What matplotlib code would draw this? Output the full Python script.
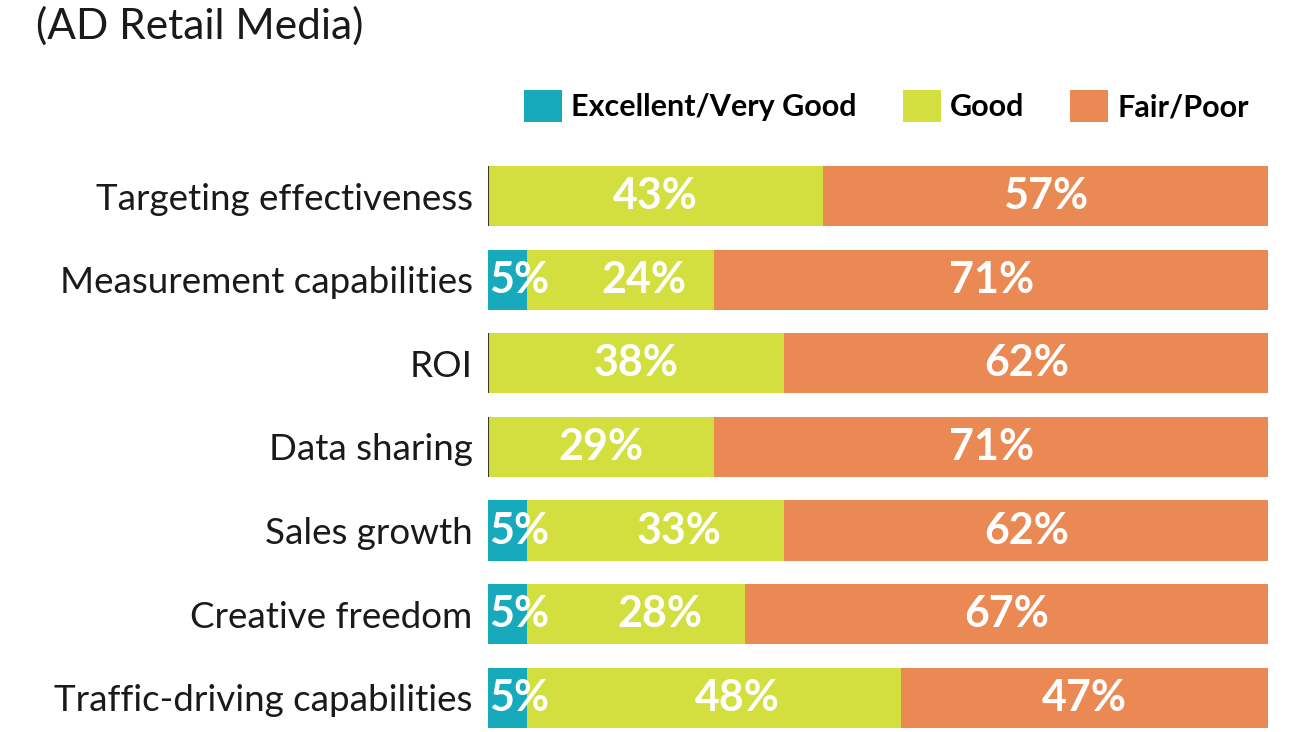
import matplotlib.pyplot as plt
from matplotlib.patches import Patch

# Chart data.
categories = [
    "Targeting effectiveness",
    "Measurement capabilities",
    "ROI",
    "Data sharing",
    "Sales growth",
    "Creative freedom",
    "Traffic-driving capabilities",
]
excellent = [0, 5, 0, 0, 5, 5, 5]
good = [43, 24, 38, 29, 33, 28, 48]
fair_poor = [57, 71, 62, 71, 62, 67, 47]
series_names = ["Excellent/Very Good", "Good", "Fair/Poor"]
colors = ["#17AABD", "#D3DF3F", "#EB8955"]

plt.rcParams["font.family"] = ["Lato", "DejaVu Sans"]

fig = plt.figure(figsize=(13, 7.32), dpi=100)
ax = fig.add_axes([0.3754, 0.0055, 0.6, 0.7678])

positions = list(range(len(categories)))
bar_height = 0.72

# Draw the three stacked segments.
lefts = [0] * len(categories)
for values, color in zip([excellent, good, fair_poor], colors):
    ax.barh(positions, values, left=lefts, height=bar_height, color=color)
    lefts = [l + v for l, v in zip(lefts, values)]

# Thin dark edge where the first segment is empty.
for pos, value in zip(positions, excellent):
    if value == 0:
        ax.vlines(0, pos - bar_height / 2, pos + bar_height / 2, color="#3a3a2a", lw=1.5)

# Percentage labels in each segment.
for pos, e, g, f in zip(positions, excellent, good, fair_poor):
    style = dict(color="white", fontsize=31, fontweight="bold", va="center", ha="center")
    if e > 0:
        # Small segment: start the label at the bar's left edge.
        ax.text(0.2, pos, f"{e}%", **{**style, "ha": "left"})
        ax.text(e + g / 2 + 3, pos, f"{g}%", **style)
    else:
        ax.text(g / 2, pos, f"{g}%", **style)
    ax.text(e + g + f / 2, pos, f"{f}%", **style)

ax.set_xlim(0, 100)
ax.set_ylim(len(categories) - 1 + bar_height / 2, -bar_height / 2)
ax.set_yticks(positions)
ax.set_yticklabels(categories, fontsize=26.5, color="#1a1a1a")
ax.tick_params(axis="y", length=0, pad=11)
ax.set_xticks([])
for spine in ax.spines.values():
    spine.set_visible(False)

# Legend with square swatches across the top.
handles = [Patch(facecolor=c, edgecolor="none") for c in colors]
fig.legend(
    handles,
    series_names,
    loc="center left",
    bbox_to_anchor=(0.403, 0.855),
    ncol=3,
    frameon=False,
    handlelength=1.25,
    handleheight=1.25,
    handletextpad=0.3,
    columnspacing=1.5,
    borderpad=0,
    borderaxespad=0,
    prop={"size": 22, "weight": "bold"},
)

fig.text(0.028, 0.965, "(AD Retail Media)", fontsize=30.5, color="#1a1a1a", va="center", ha="left")

fig.savefig("out.png", dpi=100)
